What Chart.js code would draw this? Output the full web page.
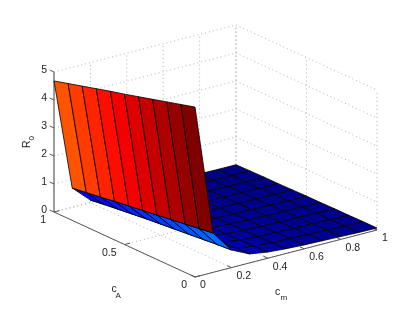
<!DOCTYPE html>
<html>
<head>
<meta charset="utf-8">
<style>
  html, body { margin: 0; padding: 0; background: #fff; }
  #wrap { width: 415px; height: 312px; }
</style>
<script src="https://cdn.jsdelivr.net/npm/chart.js@4"></script>
</head>
<body>
<div id="wrap"><canvas id="surface" width="415" height="312"></canvas></div>
<script>
// grid of the surface
const cmValues = [0, 0.1, 0.2, 0.3, 0.4, 0.5, 0.6, 0.7, 0.8, 0.9, 1];
const caValues = [0, 0.1, 0.2, 0.3, 0.4, 0.5, 0.6, 0.7, 0.8, 0.9, 1];

// R0, one list per cm, running from cA = 0 to cA = 1
const r0Cm00 = [6.07, 5.93, 5.79, 5.65, 5.51, 5.37, 5.24, 5.10, 4.96, 4.82, 4.68];
const r0Cm01 = [1.40, 1.33, 1.26, 1.19, 1.12, 1.05, 0.98, 0.91, 0.83, 0.76, 0.69];
const r0Cm02 = [0.63, 0.59, 0.54, 0.49, 0.44, 0.39, 0.34, 0.28, 0.22, 0.16, 0.09];
const r0Cm03 = [0.32, 0.30, 0.27, 0.24, 0.22, 0.19, 0.16, 0.13, 0.10, 0.07, 0.04];
const r0Cm04 = [0.22, 0.20, 0.18, 0.17, 0.15, 0.13, 0.11, 0.09, 0.07, 0.05, 0.03];
const r0Cm05 = [0.17, 0.15, 0.14, 0.13, 0.12, 0.10, 0.08, 0.07, 0.05, 0.04, 0.02];
const r0Cm06 = [0.14, 0.13, 0.12, 0.11, 0.09, 0.08, 0.07, 0.06, 0.04, 0.03, 0.02];
const r0Cm07 = [0.12, 0.11, 0.10, 0.09, 0.08, 0.07, 0.06, 0.05, 0.04, 0.03, 0.02];
const r0Cm08 = [0.10, 0.09, 0.09, 0.08, 0.07, 0.06, 0.05, 0.04, 0.03, 0.02, 0.02];
const r0Cm09 = [0.08, 0.08, 0.07, 0.07, 0.06, 0.05, 0.04, 0.04, 0.03, 0.02, 0.01];
const r0Cm10 = [0.07, 0.07, 0.06, 0.06, 0.05, 0.05, 0.04, 0.03, 0.03, 0.02, 0.01];
const r0Rows = [r0Cm00, r0Cm01, r0Cm02, r0Cm03, r0Cm04, r0Cm05, r0Cm06, r0Cm07, r0Cm08, r0Cm09, r0Cm10];

// axis ticks
const cmTicks = [0, 0.2, 0.4, 0.6, 0.8, 1];
const cmTickLabels = ["0", "0.2", "0.4", "0.6", "0.8", "1"];
const caTicks = [0, 0.5, 1];
const caTickLabels = ["0", "0.5", "1"];
const r0Ticks = [0, 1, 2, 3, 4, 5];
const r0TickLabels = ["0", "1", "2", "3", "4", "5"];

const colorMax = 6.07;
const labelFont = "10.5px 'Liberation Sans', Arial, sans-serif";
const subFont = "8px 'Liberation Sans', Arial, sans-serif";

// MATLAB style orthographic view
const project = (cm, ca, r0) => ({
  x: 54 + cm * 182 + (1 - ca) * 141,
  y: 212 - cm * 47 + (1 - ca) * 65 - r0 * 28
});

const jet = (t) => {
  const band = (v) => Math.round(255 * Math.max(0, Math.min(1, v)));
  const r = band(Math.min(4 * t - 1.5, -4 * t + 4.5));
  const g = band(Math.min(4 * t - 0.5, -4 * t + 3.5));
  const b = band(Math.min(4 * t + 0.5, -4 * t + 2.5));
  return `rgb(${r},${g},${b})`;
};

const lineSet = (points, color, width, dash) => ({
  data: points,
  showLine: true,
  fill: false,
  borderColor: color,
  borderWidth: width,
  borderDash: dash || [],
  pointRadius: 0
});

const datasets = [];
const dots = [1, 3];
const dotColor = "#a0a0a0";

// dotted grid on the floor and the two back walls
r0Ticks.forEach((r) => {
  datasets.push(lineSet([project(0, 1, r), project(1, 1, r), project(1, 0, r)], dotColor, 0.8, dots));
});
cmTicks.forEach((c) => {
  datasets.push(lineSet([project(c, 0, 0), project(c, 1, 0), project(c, 1, 5)], dotColor, 0.8, dots));
});
caTicks.forEach((a) => {
  datasets.push(lineSet([project(0, a, 0), project(1, a, 0), project(1, a, 5)], dotColor, 0.8, dots));
});

// axis lines and tick marks
const axisColor = "#555";
datasets.push(lineSet([project(0, 1, 5), project(0, 1, 0)], "#888", 1.6));
datasets.push(lineSet([project(0, 1, 0), project(0, 0, 0), project(1, 0, 0)], axisColor, 1));
cmTicks.forEach((c) => {
  datasets.push(lineSet([project(c, 0, 0), project(c, 0.03, 0)], axisColor, 1));
});
caTicks.forEach((a) => {
  datasets.push(lineSet([project(0, a, 0), project(0.03, a, 0)], axisColor, 1));
});
r0Ticks.forEach((r) => {
  datasets.push(lineSet([project(0, 1, r), project(0, 1.03, r)], axisColor, 1));
});

// surface cells, far ones first so the near ones paint over them
for (let i = cmValues.length - 2; i >= 0; i--) {
  for (let j = caValues.length - 2; j >= 0; j--) {
    const p = (a, b) => project(cmValues[a], caValues[b], r0Rows[a][b]);
    datasets.push({
      data: [p(i, j), p(i + 1, j), p(i + 1, j + 1), p(i, j + 1), p(i, j)],
      showLine: true,
      fill: "shape",
      backgroundColor: jet(r0Rows[i][j] / colorMax),
      borderColor: "#000",
      borderWidth: 0.8,
      pointRadius: 0
    });
  }
}

// chart.js paints the first dataset on top
datasets.reverse();

const axisText = {
  id: "axisText",
  afterDraw(chart) {
    const ctx = chart.ctx;
    const sx = chart.scales.x;
    const sy = chart.scales.y;
    const put = (text, x, y, align, font) => {
      ctx.font = font || labelFont;
      ctx.textAlign = align;
      ctx.textBaseline = "middle";
      ctx.fillText(text, x, y);
    };
    ctx.save();
    ctx.fillStyle = "#222";
    r0Ticks.forEach((r, k) => {
      const p = project(0, 1, r);
      put(r0TickLabels[k], sx.getPixelForValue(p.x) - 7, sy.getPixelForValue(p.y) - 1.5, "right");
    });
    caTicks.forEach((a, k) => {
      const p = project(0, a, 0);
      put(caTickLabels[k], sx.getPixelForValue(p.x) - 8, sy.getPixelForValue(p.y) + 8.5, "right");
    });
    cmTicks.forEach((c, k) => {
      const p = project(c, 0, 0);
      put(cmTickLabels[k], sx.getPixelForValue(p.x) + 5, sy.getPixelForValue(p.y) + 8.5, "left");
    });
    // axis titles
    put("c", 111.5, 289.5, "left");
    put("A", 115.5, 295.5, "left", subFont);
    put("c", 275, 292.5, "left");
    put("m", 280.5, 298, "left", subFont);
    ctx.translate(27.5, 148);
    ctx.rotate(-Math.PI / 2);
    put("R", 0, 0, "left");
    put("0", 7.5, 4.5, "left", subFont);
    ctx.restore();
  }
};

new Chart(document.getElementById("surface").getContext("2d"), {
  type: "scatter",
  data: { datasets },
  options: {
    responsive: false,
    animation: false,
    layout: { padding: 0 },
    plugins: { legend: { display: false }, tooltip: { enabled: false } },
    scales: {
      x: { type: "linear", min: 0, max: 415, display: false },
      y: { type: "linear", min: 0, max: 312, reverse: true, display: false }
    }
  },
  plugins: [axisText]
});
</script>
</body>
</html>
